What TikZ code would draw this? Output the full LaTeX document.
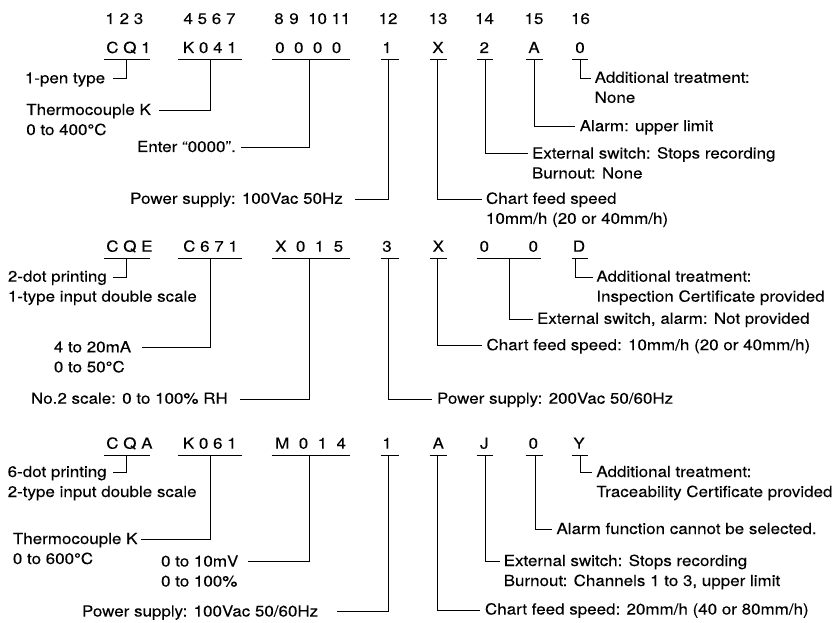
\documentclass[tikz,border=0pt]{standalone}
\usepackage{fontspec}
\setmainfont[FakeStretch=1.11,FakeBold=0.06]{TeX Gyre Heros}
\newcommand{\mtl}[2]{\begin{tabular}[t]{@{}l@{}}#1\\#2\end{tabular}}
\begin{document}
\begin{tikzpicture}[x=1pt,y=-1pt,
  every node/.style={inner sep=0pt, outer sep=0pt, font=\fontsize{15.3pt}{20pt}\selectfont},
  lab/.style={anchor=base west},
  code/.style={anchor=base west},
  codec/.style={anchor=base},
  hdr/.style={anchor=base},
  uline/.style={line width=1pt},
  conn/.style={line width=1pt}]
\fill[white] (0,0) rectangle (838,623);
\useasboundingbox (0,0) rectangle (838,623);

% ---------------- header digits ----------------
\node[anchor=base west] (h1) at (105.5,24) {1~2~3};
\node[anchor=base west] (h2) at (183.5,24) {4~5~6~7};
\node[hdr] (h8) at (279,24) {8};
\node[hdr] (h9) at (294,24) {9};
\node[hdr] (h10) at (317.5,24) {10};
\node[hdr] (h11) at (341,24) {11};
\node[hdr] (h12) at (388,24) {12};
\node[hdr] (h13) at (438,24) {13};
\node[hdr] (h14) at (484.5,24) {14};
\node[hdr] (h15) at (534,24) {15};
\node[hdr] (h16) at (580.5,24) {16};

% ================= ROW 1 =================
\node[code] (a1) at (106.3,53) {C~Q~1};
\node[code] (a2) at (182.9,53) {K~0~4~1};
\node[code] (a3) at (275.2,53) {0~~0~~0~~0};
\node[codec] (a4) at (387,53) {1};
\node[codec] (a5) at (438,53) {X};
\node[codec] (a6) at (484.3,53) {2};
\node[codec] (a7) at (534,53) {A};
\node[codec] (a8) at (580,53) {0};
\draw[uline] (104.3,59.6) -- (150,59.6);
\draw[uline] (178.3,59.6) -- (241.7,59.6);
\draw[uline] (271.7,59.6) -- (349.5,59.6);
\draw[uline] (380.5,59.6) -- (398.5,59.6);
\draw[uline] (429.5,59.6) -- (446.5,59.6);
\draw[uline] (476.7,59.6) -- (493,59.6);
\draw[uline] (525.5,59.6) -- (542.5,59.6);
\draw[uline] (571.7,59.6) -- (588,59.6);
\coordinate (at1) at (126.5,59.6);
\coordinate (at2) at (210,59.6);
\coordinate (at3) at (309.5,59.6);
\coordinate (at4) at (388.5,59.6);
\coordinate (at5) at (437.5,59.6);
\coordinate (at6) at (485,59.6);
\coordinate (at7) at (534.3,59.6);
\coordinate (at8) at (580,59.6);
\coordinate (ae1) at (113.3,79);
\coordinate (ae2) at (159.3,110.7);
\coordinate (ae3) at (240.7,147.7);
\coordinate (ae4) at (355,199.3);
\coordinate (ae5) at (481.7,199.3);
\coordinate (ae6) at (528.3,154);
\coordinate (ae7) at (575,126.7);
\coordinate (ae8) at (590.7,78.3);
\node[lab] (al1) at (24.9,83.3) {1-pen type};
\node[lab] (al2) at (26.3,115) {\mtl{Thermocouple K}{0 to 400°C}};
\node[lab] (al3) at (137,152) {Enter “0000”.};
\node[lab] (al4) at (130.2,203.8) {Power supply: 100Vac 50Hz};
\node[lab] (al5) at (486,203.8) {\mtl{Chart feed speed}{10mm/h (20 or 40mm/h)}};
\node[lab] (al6) at (532,158.5) {\mtl{External switch: Stops recording}{Burnout: None}};
\node[lab] (al7) at (579.7,131.2) {Alarm: upper limit};
\node[lab] (al8) at (594.7,82.8) {\mtl{Additional treatment:}{None}};
\foreach \i in {1,...,8} \draw[conn] (at\i) |- (ae\i);

% ================= ROW 2 =================
\node[code] (b1) at (106.3,251.7) {C~Q~E};
\node[code] (b2) at (183.2,251.7) {C~6~7~1};
\node[code] (b3) at (275.2,251.7) {X~~0~~1~~5};
\node[codec] (b4) at (387,251.7) {3};
\node[codec] (b5) at (438.3,251.7) {X};
\node[codec] (b6) at (484.3,251.7) {0};
\node[codec] (b7) at (533.3,251.7) {0};
\node[codec] (b8) at (579,251.7) {D};
\draw[uline] (104.3,258.3) -- (150,258.3);
\draw[uline] (178.3,258.3) -- (241.7,258.3);
\draw[uline] (271.7,258.3) -- (349.5,258.3);
\draw[uline] (380.5,258.3) -- (398.5,258.3);
\draw[uline] (429.5,258.3) -- (446.5,258.3);
\draw[uline] (476.7,258.3) -- (541,258.3);
\draw[uline] (571.7,258.3) -- (588,258.3);
\coordinate (bt1) at (126.5,258.3);
\coordinate (bt2) at (210,258.3);
\coordinate (bt3) at (309.5,258.3);
\coordinate (bt4) at (388.5,258.3);
\coordinate (bt5) at (437.5,258.3);
\coordinate (bt6) at (509.3,258.3);
\coordinate (bt8) at (575,258.3);
\coordinate (be1) at (113.3,277.3);
\coordinate (be2) at (141.7,347.7);
\coordinate (be3) at (240,399.3);
\coordinate (be4) at (431.7,399.3);
\coordinate (be5) at (481.7,345.7);
\coordinate (be6) at (533.3,319.3);
\coordinate (be8) at (593.3,277.3);
\node[lab] (bl1) at (7.9,281.7) {\mtl{2-dot printing}{1-type input double scale}};
\node[lab] (bl2) at (53.9,352.3) {\mtl{4 to 20mA}{0 to 50°C}};
\node[lab] (bl3) at (31,403.7) {No.2 scale: 0 to 100\% RH};
\node[lab] (bl4) at (437,403.7) {Power supply: 200Vac 50/60Hz};
\node[lab] (bl5) at (486.5,350.2) {Chart feed speed: 10mm/h (20 or 40mm/h)};
\node[lab] (bl6) at (537,323.8) {External switch, alarm: Not provided};
\node[lab] (bl8) at (596.4,281.7) {\mtl{Additional treatment:}{Inspection Certificate provided}};
\foreach \i in {1,2,3,4,5,6,8} \draw[conn] (bt\i) |- (be\i);

% ================= ROW 3 =================
\node[code] (c1) at (106.3,448.7) {C~Q~A};
\node[code] (c2) at (182.9,448.7) {K~0~6~1};
\node[code] (c3) at (275.2,448.7) {M~~0~~1~~4};
\node[codec] (c4) at (387,448.7) {1};
\node[codec] (c5) at (438.3,448.7) {A};
\node[codec] (c6) at (484.3,448.7) {J};
\node[codec] (c7) at (533.3,448.7) {0};
\node[codec] (c8) at (579,448.7) {Y};
\draw[uline] (104.3,455.3) -- (150,455.3);
\draw[uline] (178.3,455.3) -- (241.7,455.3);
\draw[uline] (271.7,455.3) -- (349.5,455.3);
\draw[uline] (380.5,455.3) -- (398.5,455.3);
\draw[uline] (429.5,455.3) -- (446.5,455.3);
\draw[uline] (476.7,455.3) -- (493,455.3);
\draw[uline] (525.5,455.3) -- (542.5,455.3);
\draw[uline] (571.7,455.3) -- (588,455.3);
\coordinate (ct1) at (126.5,455.3);
\coordinate (ct2) at (210,455.3);
\coordinate (ct3) at (309.5,455.3);
\coordinate (ct4) at (388.5,455.3);
\coordinate (ct5) at (437.5,455.3);
\coordinate (ct6) at (485,455.3);
\coordinate (ct7) at (535,455.3);
\coordinate (ct8) at (580,455.3);
\coordinate (ce1) at (113.3,472.7);
\coordinate (ce2) at (141,539.3);
\coordinate (ce3) at (248.3,561.7);
\coordinate (ce4) at (336.7,611.7);
\coordinate (ce5) at (480,610);
\coordinate (ce6) at (500,561.7);
\coordinate (ce7) at (551.7,529.3);
\coordinate (ce8) at (591.7,472.3);
\node[lab] (cl1) at (7.7,477) {\mtl{6-dot printing}{2-type input double scale}};
\node[lab] (cl2) at (12.9,544) {\mtl{Thermocouple K}{0 to 600°C}};
\node[lab] (cl3) at (161.1,566.5) {\mtl{0 to 10mV}{0 to 100\%}};
\node[lab] (cl4) at (82,616.5) {Power supply: 100Vac 50/60Hz};
\node[lab] (cl5) at (485,614.5) {Chart feed speed: 20mm/h (40 or 80mm/h)};
\node[lab] (cl6) at (503.7,566) {\mtl{External switch: Stops recording}{Burnout: Channels 1 to 3, upper limit}};
\node[lab] (cl7) at (556.5,534) {Alarm function cannot be selected.};
\node[lab] (cl8) at (596.4,477) {\mtl{Additional treatment:}{Traceability Certificate provided}};
\foreach \i in {1,...,8} \draw[conn] (ct\i) |- (ce\i);
\end{tikzpicture}
\end{document}
